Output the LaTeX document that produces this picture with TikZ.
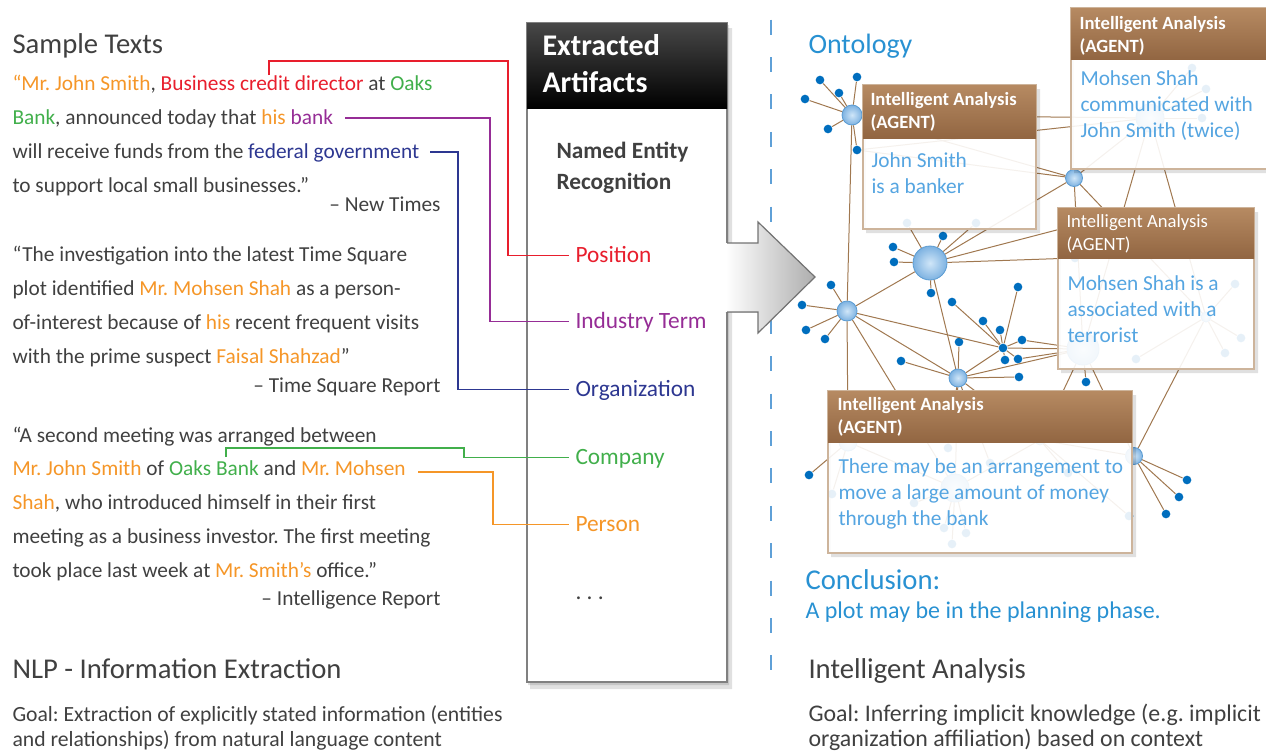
\documentclass[tikz,border=0pt]{standalone}
\usepackage{fontspec}
\setmainfont{Carlito}

\definecolor{txtgray}{RGB}{64,64,64}
\definecolor{enred}{RGB}{232,30,45}
\definecolor{enpurple}{RGB}{150,45,150}
\definecolor{enblue}{RGB}{45,55,145}
\definecolor{engreen}{RGB}{65,175,75}
\definecolor{enorange}{RGB}{245,150,40}
\definecolor{ontoblue}{RGB}{40,145,210}
\definecolor{agentblue}{RGB}{85,165,225}
\definecolor{dashblue}{RGB}{95,160,215}
\definecolor{edgebrown}{RGB}{160,120,80}
\definecolor{leafblue}{RGB}{0,110,190}
\definecolor{hubrim}{RGB}{90,155,210}
\definecolor{hubin}{RGB}{208,230,248}
\definecolor{hubout}{RGB}{125,178,225}
\definecolor{headtop}{RGB}{182,138,98}
\definecolor{headbot}{RGB}{146,102,66}
\definecolor{boxrim}{RGB}{205,180,155}

\tikzset{every picture/.style={line width=0.75pt}}
\tikzset{
  srctext/.style={anchor=base west, inner sep=0pt, align=left, text=txtgray, font=\fontsize{16}{25.27}\selectfont},
  srcby/.style={anchor=base east, inner sep=0pt, text=txtgray, font=\fontsize{16}{19}\selectfont},
  heading/.style={anchor=base west, inner sep=0pt, text=txtgray, font=\fontsize{21.5}{26}\selectfont},
  goaltext/.style={anchor=base west, inner sep=0pt, align=left, text=txtgray, font=\fontsize{#1}{18.75}\selectfont},
  entlabel/.style={anchor=west, inner xsep=4.5pt, inner ysep=0pt, text height=11.5pt, text depth=1.7pt, font=\fontsize{17.5}{21}\selectfont},
  tagline/.style={line width=1.1pt},
  agentbox/.style={draw=boxrim, line width=1.1pt, fill=white, fill opacity=0.9},
  agenthead/.style={top color=headtop, bottom color=headbot},
  agenttitle/.style={anchor=base west, inner sep=0pt, align=left, text=white, font=\fontsize{14}{17.25}\selectfont\bfseries},
  agentbody/.style={anchor=base west, inner sep=0pt, align=left, text=agentblue, font=\fontsize{16}{19.5}\selectfont},
  boxshade/.style={fill=black, opacity=0.12, even odd rule},
  hub/.style={circle, inner sep=0pt, minimum size=#1, draw=hubrim, line width=0.6pt, inner color=hubin, outer color=hubout},
  leaf/.style={circle, inner sep=0pt, minimum size=6.5pt, fill=leafblue},
  link/.style={draw=edgebrown, line width=0.75pt}
}

\begin{document}
\frenchspacing
\begin{tikzpicture}[x=0.75pt,y=0.75pt,yscale=-1,xscale=1]
    \useasboundingbox (0,0) rectangle (1266,753);

    % ---------------- left column: sample texts ----------------
    % (multi-line nodes sit on the baseline of their last line)
    % Text Node
    \node[heading] (samplehead) at (12,53) {Sample Texts};
    % Text Node
    \node[srctext] (para1) at (12,192) {\textcolor{enorange}{“Mr. John Smith}, \textcolor{enred}{Business credit director} at \textcolor{engreen}{Oaks}\\
      \textcolor{engreen}{Bank}, announced today that \textcolor{enorange}{his} \textcolor{enpurple}{bank}\\
      will receive funds from the \textcolor{enblue}{federal government}\\
      to support local small businesses.”};
    \node[srcby] (by1) at (441,211) {– New Times};
    % Text Node
    \node[srctext] (para2) at (12,363) {“The investigation into the latest Time Square\\
      plot identified \textcolor{enorange}{Mr. Mohsen Shah} as a person-\\
      of-interest because of \textcolor{enorange}{his} recent frequent visits\\
      with the prime suspect \textcolor{enorange}{Faisal Shahzad}”};
    \node[srcby] (by2) at (441,392) {– Time Square Report};
    % Text Node
    \node[srctext] (para3) at (12,577) {“A second meeting was arranged between\\
      \textcolor{enorange}{Mr. John Smith} of \textcolor{engreen}{Oaks Bank} and \textcolor{enorange}{Mr. Mohsen}\\
      \textcolor{enorange}{Shah}, who introduced himself in their first\\
      meeting as a business investor. The first meeting\\
      took place last week at \textcolor{enorange}{Mr. Smith’s} office.”};
    \node[srcby] (by3) at (441,605) {– Intelligence Report};
    % Text Node
    \node[heading] (nlphead) at (12,678) {NLP - Information Extraction};
    \node[goaltext=16.25] (nlpgoal) at (12,746) {Goal: Extraction of explicitly stated information (entities\\and relationships) from natural language content};

    % ---------------- extracted artifacts box ----------------
    %Shape: Rectangle (shadow)
    \fill[boxshade] (530,28) rectangle (732,689) (527,23) rectangle (727,682);
    \fill[boxshade] (528,25) rectangle (729,685) (527,23) rectangle (727,682);
    %Shape: Rectangle
    \draw[draw=black!50, line width=1.1pt, fill=white] (527,23) rectangle (727,682);
    \fill[top color=black!72, bottom color=black] (527,23) rectangle (727,108);
    % Text Node
    \node[anchor=base west, inner sep=0pt, align=left, text=white, font=\fontsize{22.5}{27.75}\selectfont\bfseries] (arthead) at (542,92) {Extracted\\Artifacts};
    \node[anchor=base west, inner sep=0pt, align=left, text=txtgray, font=\fontsize{17.5}{23.25}\selectfont\bfseries] (ner) at (556,189) {Named Entity\\Recognition};
    \node[entlabel, text=enred] (pos) at (569,255.5) {Position};
    \node[entlabel, text=enpurple] (ind) at (569,321.5) {Industry Term};
    \node[entlabel, text=enblue] (org) at (569,389.5) {Organization};
    \node[entlabel, text=engreen] (comp) at (569,457.5) {Company};
    \node[entlabel, text=enorange] (pers) at (569,524.5) {Person};
    \node[anchor=base west, inner sep=0pt, text=txtgray, font=\fontsize{17.5}{21}\selectfont] (more) at (575,599) {. . .};

    % connectors from the texts to the entity types
    \coordinate (cred) at (269,75);
    \coordinate (chisbank) at (345,118);
    \coordinate (cfed) at (430,152);
    \coordinate (coaks) at (226,457);
    \coordinate (cmohsen) at (418,472);
    \draw[tagline, enred] (cred) |- (508,61) |- (pos.west);
    \draw[tagline, enpurple] (chisbank) -- (490,118) |- (ind.west);
    \draw[tagline, enblue] (cfed) -- (458,152) |- (org.west);
    \draw[tagline, engreen] (coaks) |- (464,448) |- (comp.west);
    \draw[tagline, enorange] (cmohsen) -- (493,472) |- (pers.west);

    % dashed separator
    \draw[dashblue, line width=1.1pt, dash pattern=on 11.25pt off 16.8pt] (771,19.6) -- (771,672);

    %Shape: big arrow
    \fill[left color=white, right color=black!32] (725.5,243) -- (758,243) -- (758,222) -- (815,277) -- (758,333) -- (758,312) -- (725.5,312) -- cycle;
    \draw[draw=black!55, line width=0.9pt] (727,243) -- (758,243) -- (758,222) -- (815,277) -- (758,333) -- (758,312) -- (727,312);

    % ---------------- ontology network ----------------
    \node[anchor=base west, inner sep=0pt, text=ontoblue, font=\fontsize{21}{25}\selectfont] (onto) at (808,53) {Ontology};

    \node[hub=15pt] (h1) at (852,115) {};
    \node[hub=12.75pt] (h2) at (1074,178) {};
    \node[hub=15pt] (h3) at (847,311) {};
    \node[hub=25.5pt] (h4) at (930,263) {};
    \node[leaf] (h5) at (1003,348) {};
    \node[hub=13.5pt] (h6) at (958,378) {};
    \node[hub=12.75pt] (h7) at (1134,456) {};
    % hubs behind the agent boxes
    \node[hub=21pt] (hb) at (1150,118) {};
    \node[hub=24pt] (hc) at (1083,349) {};
    \node[hub=7.5pt] (hc2) at (1206,317) {};
    \node[leaf] (hc5) at (1075,258) {};
    \coordinate (hc4) at (1095,220);
    \node[hub=21pt] (hd) at (955,488) {};
    \node[hub=13.5pt] (hd2) at (848,442) {};
    \node[hub=7.5pt] (hd3) at (1040,440) {};
    \node[leaf] (l1x) at (857,150) {};

    \foreach \p [count=\i] in {(820,80),(857,77),(839,93),(805,99),(828,129)}
      {\node[leaf] (la\i) at \p {}; \draw[link] (h1) -- (la\i);}
    \foreach \p [count=\i] in {(893,247),(894,262),(943,236),(931,293),(907,223),(976,223)}
      {\node[leaf] (lb\i) at \p {}; \draw[link] (h4) -- (lb\i);}
    \foreach \p [count=\i] in {(831,285),(802,305),(806,330),(825,339)}
      {\node[leaf] (lc\i) at \p {}; \draw[link] (h3) -- (lc\i);}
    \foreach \p [count=\i] in {(952,302),(983,321),(1000,330),(1018,287),(1022,340),(1005,360),(1018,359)}
      {\node[leaf] (ld\i) at \p {}; \draw[link] (h5) -- (ld\i);}
    \foreach \p [count=\i] in {(901,361),(959,342),(1019,377),(948,448),(990,463)}
      {\node[leaf] (le\i) at \p {}; \draw[link] (h6) -- (le\i);}
    \foreach \p [count=\i] in {(1187,480),(1179,497),(1166,514)}
      {\node[leaf] (lf\i) at \p {}; \draw[link] (h7) -- (lf\i);}
    \foreach \p [count=\i] in {(1192,68),(1206,89),(1202,118)}
      {\node[leaf] (lg\i) at \p {}; \draw[link] (hb) -- (lg\i);}
    \foreach \p [count=\i] in {(1235,284),(1241,338),(1225,353),(1136,359)}
      {\node[leaf] (lh\i) at \p {}; \draw[link] (hc2) -- (lh\i);}
    \foreach \p [count=\i] in {(914,503),(944,528),(966,533),(952,544)}
      {\node[leaf] (li\i) at \p {}; \draw[link] (hd) -- (li\i);}
    \foreach \p [count=\i] in {(809,475),(832,494)}
      {\node[leaf] (lj\i) at \p {}; \draw[link] (hd2) -- (lj\i);}
    \foreach \p [count=\i] in {(1068,473),(1129,516)}
      {\node[leaf] (lk\i) at \p {}; \draw[link] (hd3) -- (lk\i);}
    \node[leaf] (ll1) at (1086,382) {};
    \draw[link] (hc) -- (ll1);

    \draw[link] (h1) -- (h3);
    \draw[link] (h1) -- (hb);
    \draw[link] (h1) -- (h2);
    \draw[link] (h1) -- (l1x);
    \draw[link] (l1x) -- (hb);
    \draw[link] (l1x) -- (h2);
    \draw[link] (h2) -- (hb);
    \draw[link] (h2) -- (h4);
    \draw[link] (h2) -- (hc);
    \draw[link] (h2) -- (hc2);
    \draw[link] (h4) -- (h3);
    \draw[link] (h4) -- (h6);
    \draw[link] (h4) -- (hc4);
    \draw[link] (h4) -- (hc5);
    \draw[link] (h3) -- (h5);
    \draw[link] (h3) -- (h6);
    \draw[link] (h3) -- (hd);
    \draw[link] (h3) -- (hd2);
    \draw[link] (h5) -- (h6);
    \draw[link] (h5) -- (hc);
    \draw[link] (ld5) -- (hc);
    \draw[link] (ld7) -- (hc);
    \draw[link] (h6) -- (hc);
    \draw[link] (h6) -- (hd);
    \draw[link] (h6) -- (hd3);
    \draw[link] (hb) -- (hc);
    \draw[link] (hb) -- (hc2);
    \draw[link] (hc2) -- (h7);
    \draw[link] (hc) -- (hd3);
    \draw[link] (hc) -- (h7);
    \draw[link] (h7) -- (hd3);
    \draw[link] (hd) -- (hd2);
    \draw[link] (hd) -- (hd3);

    % ---------------- agent boxes ----------------
    %Shape: Rectangle [agent A]
    \fill[boxshade] (866,89) rectangle (1040,233) (863,85) rectangle (1036,229);
    \draw[agentbox] (863,85) rectangle (1036,229);
    \fill[agenthead] (863,85) rectangle (1036,138);
    \node[agenttitle] (ta) at (870,128) {Intelligent Analysis\\(AGENT)};
    \node[agentbody] (ba) at (871,193) {John Smith\\is a banker};

    %Shape: Rectangle [agent B]
    \fill[boxshade] (1074,12) rectangle (1284,173) (1071,8) rectangle (1280,169);
    \draw[agentbox] (1071,8) rectangle (1280,169);
    \fill[agenthead] (1071,8) rectangle (1280,59);
    \node[agenttitle] (tb) at (1079,52) {Intelligent Analysis\\(AGENT)};
    \node[agentbody] (bb) at (1080,137) {Mohsen Shah\\communicated with\\John Smith (twice)};

    %Shape: Rectangle [agent C]
    \fill[boxshade] (1061,212) rectangle (1258,373) (1058,208) rectangle (1254,369);
    \draw[agentbox] (1058,208) rectangle (1254,369);
    \fill[agenthead] (1058,208) rectangle (1254,258);
    \node[agenttitle, font=\fontsize{14}{17.25}\selectfont] (tc) at (1066,250) {Intelligent Analysis\\(AGENT)};
    \node[agentbody] (bc) at (1067,342) {Mohsen Shah is a\\associated with a\\terrorist};

    %Shape: Rectangle [agent D]
    \fill[boxshade] (831,395) rectangle (1136,557) (828,391) rectangle (1132,553);
    \draw[agentbox] (828,391) rectangle (1132,553);
    \fill[agenthead] (828,391) rectangle (1132,442);
    \node[agenttitle] (td) at (837,433) {Intelligent Analysis\\(AGENT)};
    \node[agentbody] (bd) at (838,525) {There may be an arrangement to\\move a large amount of money\\through the bank};

    % ---------------- right column texts ----------------
    \node[anchor=base west, inner sep=0pt, text=ontoblue, font=\fontsize{21.5}{25}\selectfont] (concl) at (805,589) {Conclusion:};
    \node[anchor=base west, inner sep=0pt, text=ontoblue, font=\fontsize{18}{22}\selectfont] (plot) at (805,618) {A plot may be in the planning phase.};
    \node[heading] (iahead) at (808,678) {Intelligent Analysis};
    \node[goaltext=17.9] (iagoal) at (808,746) {Goal: Inferring implicit knowledge (e.g. implicit\\organization affiliation) based on context};

\end{tikzpicture}
\end{document}
